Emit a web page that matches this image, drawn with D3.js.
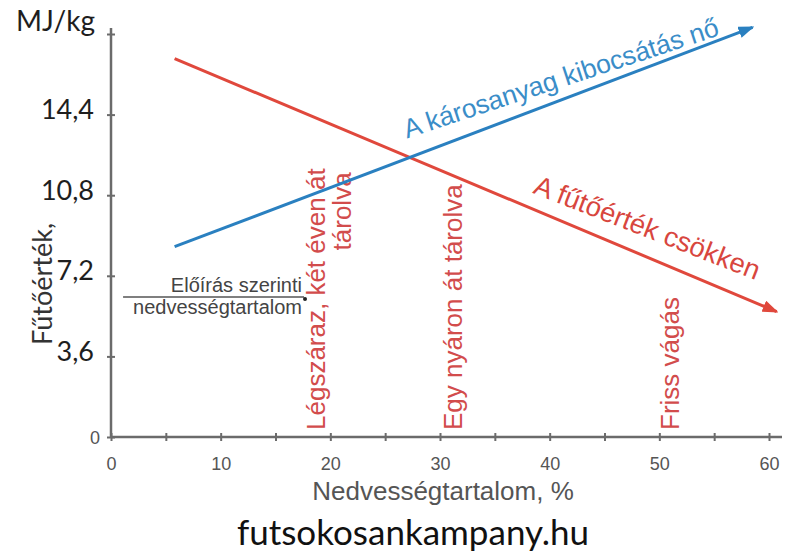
<!DOCTYPE html>
<html>
<head>
<meta charset="utf-8">
<script src="https://cdn.jsdelivr.net/npm/d3@7"></script>
<style>
	body { margin: 0; background: #fff; }
	svg { display: block; }
</style>
</head>
<body>
<div id="chart"></div>
<script>

// values
var moistureTicks = [0, 10, 20, 30, 40, 50, 60];
var moistureMinor = [5, 15, 25, 35, 45, 55];
var heatTicks = [0, 3.6, 7.2, 10.8, 14.4, 18];
var heatTickLabels = ["0", "3,6", "7,2", "10,8", "14,4", ""];

// fűtőérték (red) and károsanyag (blue) trend lines, endpoints = arrow tips
var heatX = [5.8, 60.7];
var heatY = [16.9, 5.6];
var emisX = [5.8, 58.5];
var emisY = [8.5, 18.3];

var storageLabels = [["Légszáraz, két éven át", "tárolva"], ["Egy nyáron át tárolva"], ["Friss vágás"]];
var storageX = [19.5, 32.0, 51.8];

var normX = [1.1, 17.6];
var normY = 6.25;
var normLabels = ["Előírás szerinti", "nedvességtartalom"];

var width = 787, height = 556;
var red = "#e0483c", blue = "#2a80c0";
var axisColor = "#6b6b6b";

var svg = d3.select("#chart")
	.append("svg")
	.attr("width", width)
	.attr("height", height);

var x = d3.scaleLinear().domain([0, 60]).range([111, 769]);
var y = d3.scaleLinear().domain([0, 18]).range([437, 34]);

// arrow heads
var defs = svg.append("defs");
[["arrowRed", red], ["arrowBlue", blue]].forEach(function(m) {
	defs.append("marker")
		.attr("id", m[0])
		.attr("markerUnits", "userSpaceOnUse")
		.attr("viewBox", "0 0 16 12")
		.attr("markerWidth", 16)
		.attr("markerHeight", 12)
		.attr("refX", 14)
		.attr("refY", 6)
		.attr("orient", "auto")
		.append("path")
		.attr("d", "M0,0 L16,6 L0,12 Z")
		.attr("fill", m[1]);
});

// x axis
var xAxis = svg.append("g")
	.attr("transform", "translate(0," + y(0) + ")")
	.call(d3.axisBottom(x)
		.tickValues(moistureTicks.concat(moistureMinor))
		.tickSizeInner(4)
		.tickSizeOuter(0)
		.tickFormat(function(d) { return moistureTicks.indexOf(d) >= 0 ? d : ""; }));
xAxis.select(".domain").remove();
xAxis.selectAll(".tick line")
	.attr("y1", -4).attr("y2", 4)
	.attr("stroke", axisColor).attr("stroke-width", 2);
xAxis.selectAll(".tick text")
	.attr("y", 33).attr("dy", 0)
	.attr("fill", "#555")
	.style("font", "18px 'Liberation Sans', Arial, sans-serif");
xAxis.append("line")
	.attr("x1", x(0)).attr("x2", 782)
	.attr("stroke", axisColor).attr("stroke-width", 2.5);

// y axis
var yAxis = svg.append("g")
	.attr("transform", "translate(" + x(0) + ",0)")
	.call(d3.axisLeft(y)
		.tickValues(heatTicks)
		.tickSizeInner(4)
		.tickSizeOuter(0)
		.tickFormat(function(d, i) { return heatTickLabels[i]; }));
yAxis.select(".domain").remove();
yAxis.selectAll(".tick line")
	.attr("x1", -4).attr("x2", 4)
	.attr("stroke", axisColor).attr("stroke-width", 2);
yAxis.selectAll(".tick text")
	.attr("x", -17).attr("dy", 4)
	.attr("fill", "#1e1e1e")
	.style("font", "27px Lato, sans-serif");
// the zero label is styled like the x labels
yAxis.selectAll(".tick text")
	.filter(function(d) { return d === 0; })
	.attr("x", -11).attr("dy", "0.36em")
	.attr("fill", "#555")
	.style("font", "18px 'Liberation Sans', Arial, sans-serif");
yAxis.append("line")
	.attr("y1", y(0)).attr("y2", 28)
	.attr("stroke", axisColor).attr("stroke-width", 2.5);

svg.append("text")
	.attr("x", 95).attr("y", 31)
	.attr("text-anchor", "end")
	.attr("fill", "#1e1e1e")
	.style("font", "28px Lato, sans-serif")
	.text("MJ/kg");

svg.append("text")
	.attr("transform", "translate(52,284) rotate(-90)")
	.attr("text-anchor", "middle")
	.attr("fill", "#333")
	.style("font", "27px Lato, sans-serif")
	.text("Fűtőérték,");

svg.append("text")
	.attr("x", 443).attr("y", 500)
	.attr("text-anchor", "middle")
	.attr("fill", "#555")
	.style("font", "26px 'Liberation Sans', Arial, sans-serif")
	.text("Nedvességtartalom, %");

svg.append("text")
	.attr("x", 413).attr("y", 545)
	.attr("text-anchor", "middle")
	.attr("fill", "#111")
	.style("font", "35px Lato, sans-serif")
	.text("futsokosankampany.hu");

// norm annotation
svg.append("line")
	.attr("x1", x(normX[0])).attr("x2", x(normX[1]))
	.attr("y1", y(normY)).attr("y2", y(normY))
	.attr("stroke", "#555").attr("stroke-width", 1.5);
svg.append("circle")
	.attr("cx", x(normX[1]) + 1).attr("cy", y(normY) + 2)
	.attr("r", 2).attr("fill", "#222");
svg.selectAll(".norm")
	.data(normLabels)
	.enter()
	.append("text")
	.attr("class", "norm")
	.attr("x", x(normX[1]) - 2)
	.attr("y", function(d, i) { return y(normY) + (i === 0 ? -5 : 17); })
	.attr("text-anchor", "end")
	.attr("fill", "#444")
	.style("font", "20px 'Liberation Sans', Arial, sans-serif")
	.text(function(d) { return d; });

// storage labels, vertical
var labelFont = "26px 'Liberation Sans', Arial, sans-serif";
storageLabels.forEach(function(lines, i) {
	var px = x(storageX[i]);
	var first = svg.append("text")
		.attr("transform", "translate(" + px + "," + (y(0) - 7) + ") rotate(-90)")
		.attr("fill", "#d24c4c")
		.style("font", labelFont)
		.text(lines[0]);
	if (lines.length > 1) {
		var len = first.node().getComputedTextLength();
		svg.append("text")
			.attr("transform", "translate(" + (px + 26) + "," + (y(0) - 7 - len + 4) + ") rotate(-90)")
			.attr("text-anchor", "end")
			.attr("fill", "#d24c4c")
			.style("font", labelFont)
			.text(lines[1]);
	}
});

// trend lines
var line = d3.line()
	.x(function(d) { return x(d[0]); })
	.y(function(d) { return y(d[1]); });

svg.append("path")
	.datum(d3.zip(heatX, heatY))
	.attr("d", line)
	.attr("fill", "none")
	.attr("stroke", red)
	.attr("stroke-width", 3)
	.attr("marker-end", "url(#arrowRed)");

svg.append("path")
	.datum(d3.zip(emisX, emisY))
	.attr("d", line)
	.attr("fill", "none")
	.attr("stroke", blue)
	.attr("stroke-width", 3)
	.attr("marker-end", "url(#arrowBlue)");

// text riding on the lines
function lineLabel(xs, ys, at, lift, tilt, txt, color, font) {
	var angle = Math.atan2(y(ys[1]) - y(ys[0]), x(xs[1]) - x(xs[0])) * 180 / Math.PI + tilt;
	var t = (at - xs[0]) / (xs[1] - xs[0]);
	var py = y(ys[0] + t * (ys[1] - ys[0]));
	svg.append("text")
		.attr("transform", "translate(" + x(at) + "," + (py - lift) + ") rotate(" + angle + ")")
		.attr("fill", color)
		.style("font", font)
		.text(txt);
}
lineLabel(emisX, emisY, 27.0, 20, 2.5, "A károsanyag kibocsátás nő", "#3a8dc8", "26.5px 'Liberation Sans', Arial, sans-serif");
lineLabel(heatX, heatY, 38.4, 16, -1.5, "A fűtőérték csökken", "#d8463e", "27.5px 'Liberation Sans', Arial, sans-serif");

</script>
</body>
</html>
